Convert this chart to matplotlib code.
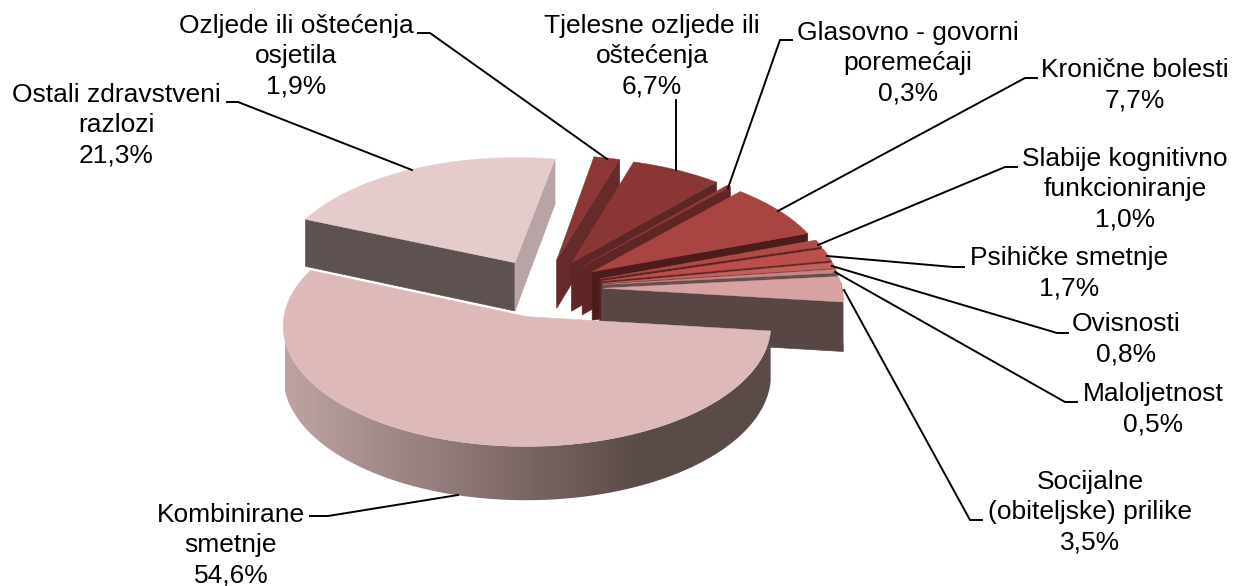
import numpy as np
import matplotlib
matplotlib.use("Agg")
import matplotlib.pyplot as plt
from matplotlib.colors import LinearSegmentedColormap
from matplotlib.patches import Polygon

plt.rcParams['font.family'] = ['Liberation Sans', 'DejaVu Sans']

# data, clockwise from the top
names = ["Ozljede ili oštećenja\nosjetila", "Tjelesne ozljede ili\noštećenja", "Glasovno - govorni\nporemećaji",
         "Kronične bolesti", "Slabije kognitivno\nfunkcioniranje", "Psihičke smetnje", "Ovisnosti", "Maloljetnost",
         "Socijalne\n(obiteljske) prilike", "Kombinirane\nsmetnje", "Ostali zdravstveni\nrazlozi"]
values = [1.9, 6.7, 0.3, 7.7, 1.0, 1.7, 0.8, 0.5, 3.5, 54.6, 21.3]
top_colors = ["#8a3736", "#8a3635", "#8f3a38", "#a84542", "#b04a47", "#bc4f4c", "#c4605c", "#c98583",
              "#d8a2a2", "#deb9b9", "#e6cbcc"]
wall_colors = ["#652a29", "#5f2625", "#5f2625", "#4d1c1a", "#5a2422", "#5e2a28", "#6e4240", "#66504e",
               "#574644", "#5a4a48", "#5e5250"]
far_wall_color = "#b8a4a4"
gradient_light = "#bfa3a3"
gradient_dark = "#5a4a48"

label_xy = [(296, 56), (652, 56), (908, 63), (1135, 85), (1125, 189), (1069, 273), (1126, 339), (1153, 409),
            (1090, 512), (231, 545), (116, 125)]
leaders = [[(418, 33), (430, 33), (607, 159)],
           [(676, 100), (676, 170)],
           [(792, 40), (780, 40), (728, 188)],
           [(1037, 78), (1025, 78), (778, 211)],
           [(1017, 167), (1005, 167), (818, 245)],
           [(964, 267), (953, 267), (827, 256)],
           [(1068, 333), (1057, 333), (832, 266)],
           [(1077, 402), (1065, 402), (835, 272)],
           [(982, 520), (970, 520), (844, 290)],
           [(310, 516), (328, 516), (458, 495)],
           [(227, 102), (238, 102), (412, 170)]]

# pie geometry
cx, cy = 543, 288
radius = 239
tilt = 0.486
persp = 0.0003
depth = 49
explode = 60
start = 10


def project(x, y, z=0):
    p = 1 / (1 + persp * y)
    return cx + x * p, cy - (tilt * y + z) * p


fig = plt.figure(figsize=(12.33, 5.86), dpi=100)
ax = fig.add_axes([0, 0, 1, 1])
ax.axis("off")

edges = start + np.concatenate([[0], np.cumsum(values)]) * 3.6
wall_cmap = LinearSegmentedColormap.from_list("wall", [gradient_light, gradient_dark])


def draw_wedge(i):
    a0, a1 = np.radians(edges[i]), np.radians(edges[i + 1])
    mid = (a0 + a1) / 2
    ax_, ay_ = explode * np.sin(mid), explode * np.cos(mid)
    arc = np.linspace(a0, a1, max(int(np.degrees(a1 - a0)), 3) + 1)
    ox, oy = ax_ + radius * np.sin(arc), ay_ + radius * np.cos(arc)

    # radial faces
    for ang, ex, ey, normal in [(a0, ox[0], oy[0], a0 - np.pi / 2), (a1, ox[-1], oy[-1], a1 + np.pi / 2)]:
        if np.cos(normal) < 0:
            color = far_wall_color if (i == len(values) - 1 and ang == a1) else wall_colors[i]
            pts = [project(ax_, ay_), project(ex, ey), project(ex, ey, -depth), project(ax_, ay_, -depth)]
            ax.fill(*zip(*pts), color=color, lw=0.5)

    # outer wall, only the part facing the viewer
    front = np.cos(arc) < 0.05
    if front.sum() > 1:
        upper = [project(a, b) for a, b in zip(ox[front], oy[front])]
        lower = [project(a, b, -depth) for a, b in zip(ox[front], oy[front])]
        pts = upper + lower[::-1]
        if i == 9:
            poly = Polygon(pts, closed=True, facecolor="none", edgecolor="none", transform=ax.transData)
            ax.add_patch(poly)
            grad = np.linspace(0, 1, 256)[None, :]
            im = ax.imshow(grad, cmap=wall_cmap, extent=(285, 640, 520, 300), aspect="auto")
            im.set_clip_path(poly)
            # dark part right of the gradient
            im2 = ax.imshow(np.ones((1, 2)), cmap=wall_cmap, vmin=0, vmax=1, extent=(640, 790, 520, 300), aspect="auto")
            im2.set_clip_path(poly)
        else:
            ax.fill(*zip(*pts), color=wall_colors[i], lw=0.5)

    # top face
    pts = [project(ax_, ay_)] + [project(a, b) for a, b in zip(ox, oy)]
    ax.fill(*zip(*pts), color=top_colors[i], lw=0.3)


for i in [0, 1, 2, 3, 4, 5, 6, 7, 8, 10, 9]:
    draw_wedge(i)

for line in leaders:
    ax.plot(*zip(*line), color="black", lw=1.4, solid_joinstyle="miter")

for name, v, (x, y) in zip(names, values, label_xy):
    txt = name + "\n" + f"{v:.1f}".replace(".", ",") + "%"
    ax.text(x, y, txt, ha="center", va="center", fontsize=19.0, color="black", linespacing=1.32)

ax.set_xlim(0, 1233)
ax.set_ylim(586, 0)
fig.savefig("out.png", dpi=100)
